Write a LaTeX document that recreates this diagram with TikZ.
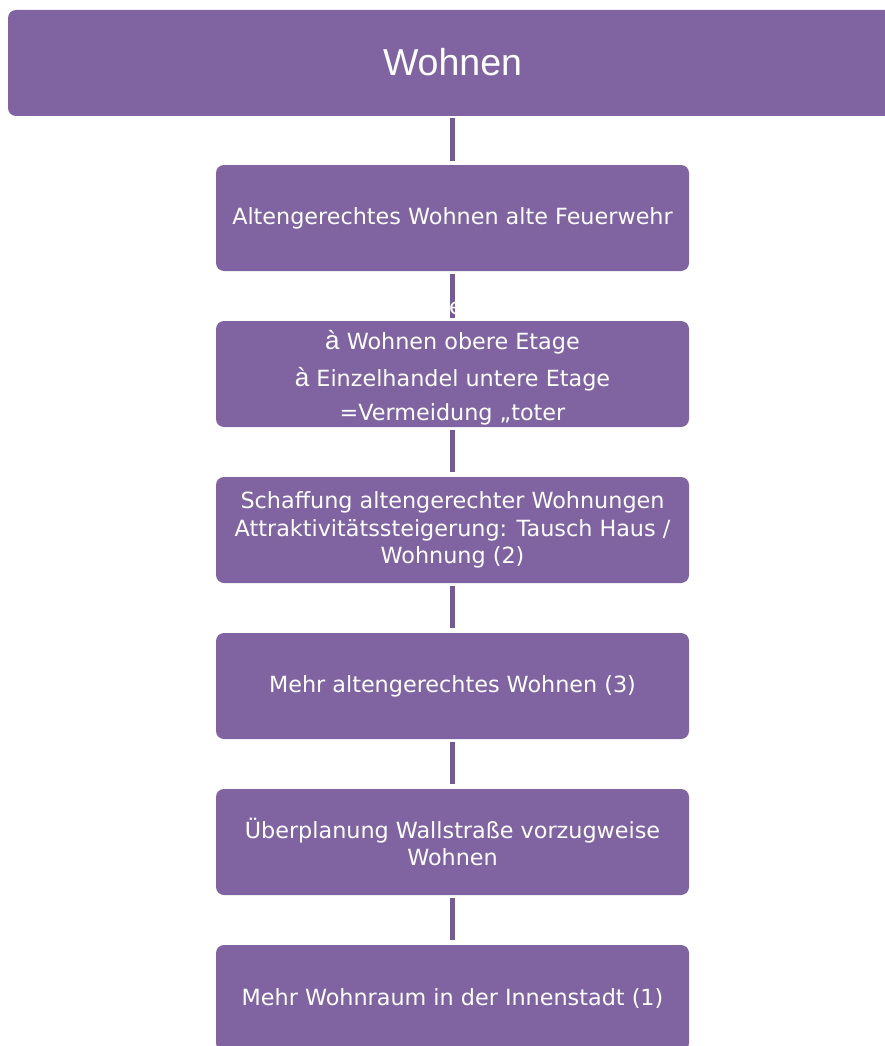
\documentclass[tikz,border=0pt]{standalone}
\usepackage{fontspec}
\setmainfont{DejaVu Sans}
\newfontfamily\titlefont{Liberation Sans}
\newfontfamily\arrowfont{Liberation Sans}
\definecolor{boxfill}{HTML}{8064A2}
\definecolor{linkcol}{HTML}{735C95}
\begin{document}
\begin{tikzpicture}[x=1pt,y=-1pt,
  stepbox/.style={fill=boxfill, rounded corners=8pt, minimum width=473pt,
    minimum height=106pt, inner sep=0pt, text=white, align=center,
    font=\fontsize{22.3}{27.2}\selectfont},
  titlebar/.style={fill=boxfill, rounded corners=8pt, minimum width=889pt,
    minimum height=106pt, inner sep=0pt},
  steptext/.style={text=white, inner sep=0pt, font=\fontsize{22.3}{26}\selectfont},
  link/.style={draw=linkcol, line width=5pt}]
\useasboundingbox (0,0) rectangle (885,1046);
\clip (0,0) rectangle (885,1046);

% title bar running off the right edge
\node[titlebar] (top) at (452.5,63) {};
\node[text=white, font=\titlefont\fontsize{37.5}{40}\selectfont] (toptext) at (452.5,62) {Wohnen};

% chain of steps
\node[stepbox] (s1) at (452.5,218) {Altengerechtes Wohnen alte Feuerwehr};
\node[stepbox] (s2) at (452.5,374) {};
\node[stepbox] (s3) at (452.5,530) {Schaffung altengerechter Wohnungen\\Attraktivitätssteigerung: Tausch Haus /\\Wohnung (2)};
\node[stepbox] (s4) at (452.5,686) {Mehr altengerechtes Wohnen (3)};
\node[stepbox] (s5) at (452.5,842) {Überplanung Wallstraße vorzugweise\\Wohnen};
\node[stepbox] (s6) at (452.5,998) {Mehr Wohnraum in der Innenstadt (1)};

% lines of the second step (text runs past the box)
\node[steptext] (s2a) at (452.5,342)
  {{\arrowfont\fontsize{26}{26}\selectfont à}\ Wohnen obere Etage};
\node[steptext] (s2b) at (452.5,379)
  {{\arrowfont\fontsize{26}{26}\selectfont à}\ Einzelhandel untere Etage};
\node[steptext] (s2c) at (452.5,414) {=Vermeidung „toter};

% connectors
\draw[link] ([yshift=-2pt]top.south) -- ([yshift=4pt]s1.north);
\draw[link] ([yshift=-3pt]s1.south) -- ([yshift=3pt]s2.north);
\draw[link] ([yshift=-3pt]s2.south) -- ([yshift=5pt]s3.north);
\draw[link] ([yshift=-3pt]s3.south) -- ([yshift=5pt]s4.north);
\draw[link] ([yshift=-3pt]s4.south) -- ([yshift=5pt]s5.north);
\draw[link] ([yshift=-3pt]s5.south) -- ([yshift=5pt]s6.north);

% overflowing text line, visible only over the connector
\begin{scope}
  \clip (450,274) rectangle (455.5,318);
  \node[steptext] (s2e) at (456,308) {e};
\end{scope}
\end{tikzpicture}
\end{document}
